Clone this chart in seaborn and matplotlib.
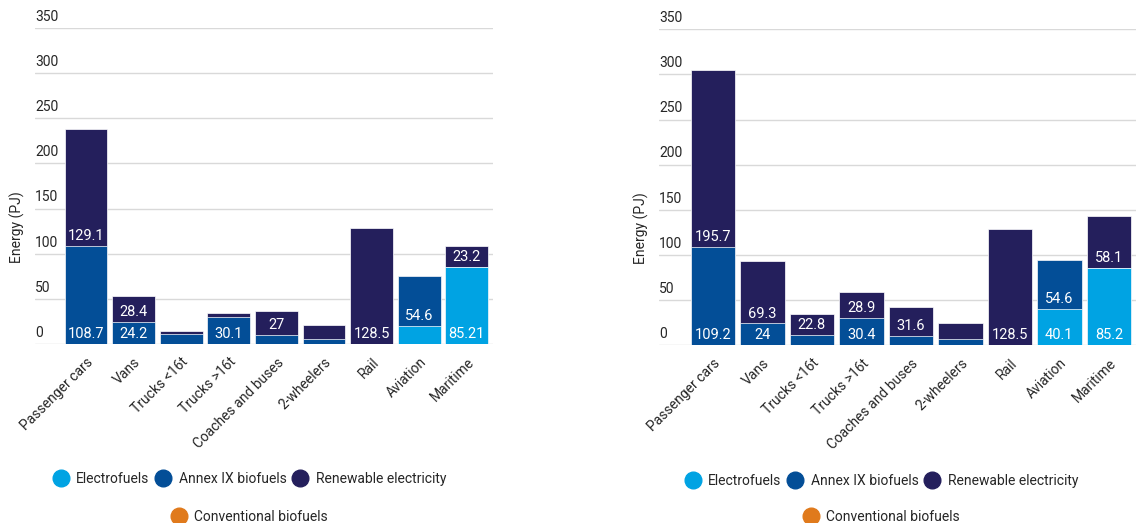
import numpy as np
import pandas as pd
import seaborn as sns
import matplotlib.pyplot as plt
from matplotlib.lines import Line2D

# Catégories et séries (PJ)
categories = ['Passenger cars', 'Vans', 'Trucks <16t', 'Trucks >16t', 'Coaches and buses',
              '2-wheelers', 'Rail', 'Aviation', 'Maritime']

left_electro = [0, 0, 0, 0, 0, 0, 0, 20.4, 85.21]
left_annex = [108.7, 24.2, 11.1, 30.1, 10.0, 6.0, 0, 54.6, 0]
left_renew = [129.1, 28.4, 3.4, 4.7, 27, 14.5, 128.5, 0, 23.2]

right_electro = [0, 0, 0, 0, 0, 0, 0, 40.1, 85.2]
right_annex = [109.2, 24, 11.2, 30.4, 10.4, 6.3, 0, 54.6, 0]
right_renew = [195.7, 69.3, 22.8, 28.9, 31.6, 17.7, 128.5, 0, 58.1]

y_ticks = [0, 50, 100, 150, 200, 250, 300, 350]
series_names = ['Electrofuels', 'Annex IX biofuels', 'Renewable electricity', 'Conventional biofuels']

C_ELEC = '#00a3e3'
C_ANNEX = '#034e97'
C_RENEW = '#241f5c'
C_CONV = '#e07a1c'
GRID = '#d9d9d9'
TXT = '#262626'
FS = 10

sns.set_theme(style='white')
plt.rcParams['font.family'] = ['Roboto', 'DejaVu Sans']


def draw_panel(ax, electro, annex, renew, xmin):
    df = pd.DataFrame({'cat': categories, 'electro': electro, 'annex': annex, 'renew': renew})
    df['s1'] = df['electro']
    df['s2'] = df['electro'] + df['annex']
    df['s3'] = df['s2'] + df['renew']

    for y in y_ticks:
        ax.axhline(y, color=GRID, lw=1, zorder=0)

    # barres empilées : on superpose les cumuls, du plus haut au plus bas
    for col, color in [('s3', C_RENEW), ('s2', C_ANNEX), ('s1', C_ELEC)]:
        sns.barplot(data=df, x='cat', y=col, color=color, width=0.9, saturation=1,
                    edgecolor='white', linewidth=0.5, ax=ax, zorder=2)

    # étiquettes de valeurs (seulement si le segment est assez haut)
    for i, row in df.iterrows():
        for val, bottom in [(row['electro'], 0), (row['annex'], row['s1']), (row['renew'], row['s2'])]:
            if val >= 21:
                ax.annotate(f'{val:g}', xy=(i, bottom), xytext=(0, 7), textcoords='offset points',
                            ha='center', va='center', color='white', fontsize=FS + 0.5, zorder=3)

    ax.set_ylim(0, 350)
    ax.set_xlim(xmin, 8.55)
    ax.set_yticks([])
    for y in y_ticks:
        ax.annotate(str(y), xy=(0, y), xycoords=ax.get_yaxis_transform(), xytext=(0, 3),
                    textcoords='offset points', ha='left', va='bottom', fontsize=FS, color=TXT)
    ax.set_xlabel('')
    ax.set_ylabel('')
    ax.set_xticks(range(len(categories)))
    ax.set_xticklabels(categories, rotation=45, ha='right', rotation_mode='anchor',
                       fontsize=FS, color=TXT)
    ax.tick_params(axis='x', length=0, pad=8)
    sns.despine(ax=ax, left=True, bottom=True)


fig = plt.figure(figsize=(11.38, 5.23), dpi=100)
ax1 = fig.add_axes([0.0308, 0.3423, 0.4025, 0.6042])
ax2 = fig.add_axes([0.5791, 0.3403, 0.4192, 0.6036])

draw_panel(ax1, left_electro, left_annex, left_renew, -1.07)
draw_panel(ax2, right_electro, right_annex, right_renew, -1.09)

fig.text(17 / 1138, 1 - 227 / 523, 'Energy (PJ)', rotation=90, ha='center', va='center',
         fontsize=FS, color=TXT)
fig.text(641 / 1138, 1 - 228 / 523, 'Energy (PJ)', rotation=90, ha='center', va='center',
         fontsize=FS, color=TXT)


def handle(color):
    return Line2D([], [], marker='o', ls='', markersize=12, markerfacecolor=color,
                  markeredgecolor=color)


colors = [C_ELEC, C_ANNEX, C_RENEW, C_CONV]
for cx, y1 in [(250 / 1138, 479), (882 / 1138, 481)]:
    fig.legend([handle(c) for c in colors[:3]], series_names[:3], ncol=3,
               loc='center', bbox_to_anchor=(cx, 1 - y1 / 523), frameon=False,
               fontsize=FS, handlelength=1.0, handletextpad=0.6, columnspacing=0.5,
               labelcolor=TXT)
    fig.legend([handle(colors[3])], series_names[3:], loc='center',
               bbox_to_anchor=(cx, 1 - 517 / 523), frameon=False, fontsize=FS,
               handlelength=1.0, handletextpad=0.6, labelcolor=TXT)

fig.savefig('out.png', dpi=100)
